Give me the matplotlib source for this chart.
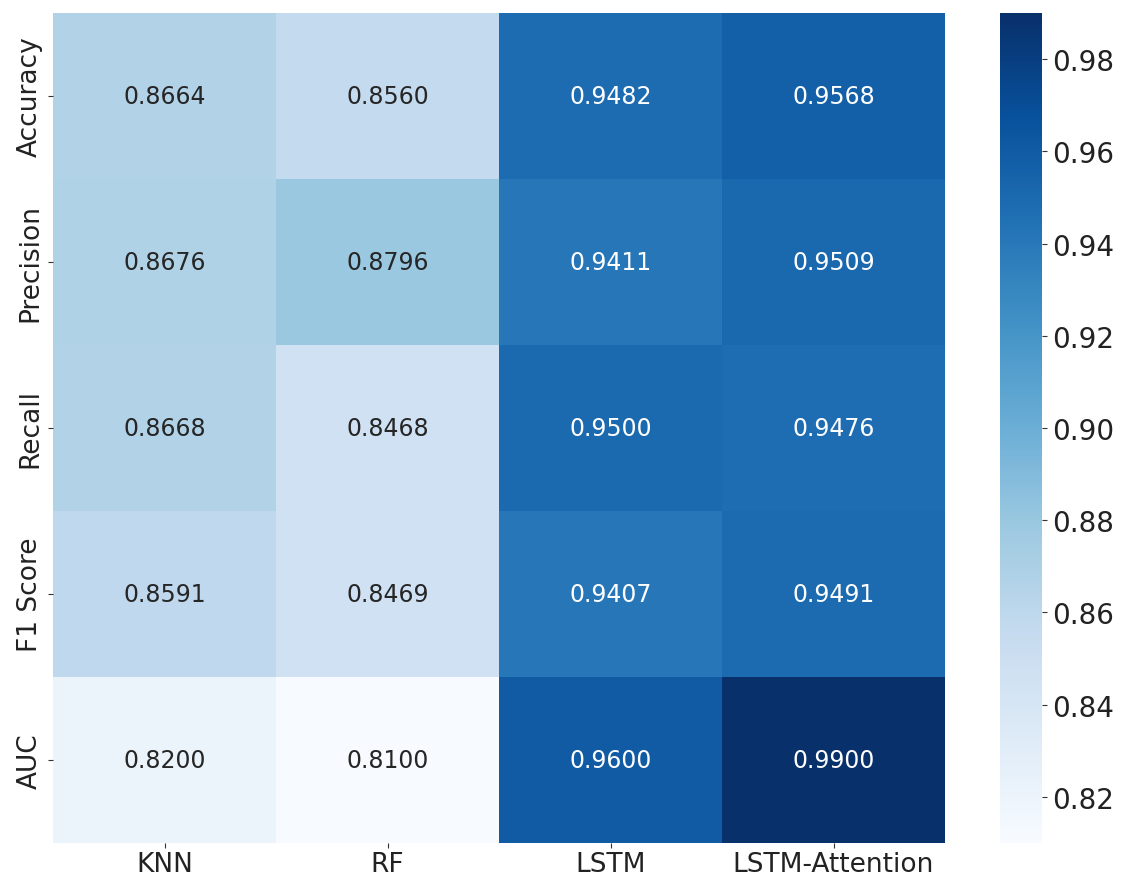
import numpy as np
import matplotlib
matplotlib.use("Agg")
import matplotlib.pyplot as plt
import seaborn as sns

models = ["KNN", "RF", "LSTM", "LSTM-Attention"]
metrics = ["Accuracy", "Precision", "Recall", "F1 Score", "AUC"]

knn = [0.8664, 0.8676, 0.8668, 0.8591, 0.8200]
rf = [0.8560, 0.8796, 0.8468, 0.8469, 0.8100]
lstm = [0.9482, 0.9411, 0.9500, 0.9407, 0.9600]
lstm_att = [0.9568, 0.9509, 0.9476, 0.9491, 0.9900]

data = np.array([knn, rf, lstm, lstm_att]).T

fig = plt.figure(figsize=(11.22, 8.79), dpi=100)
ax = fig.add_axes([53 / 1122, 1 - 844 / 879, 892 / 1122, 830 / 879])
cax = fig.add_axes([1000 / 1122, 1 - 844 / 879, 42 / 1122, 830 / 879])

sns.heatmap(data, annot=True, fmt=".4f", cmap="Blues", ax=ax, cbar_ax=cax,
            xticklabels=models, yticklabels=metrics,
            annot_kws={"fontsize": 17})

ax.tick_params(axis="both", labelsize=19, colors="#333333", labelcolor="#222222")
ax.tick_params(axis="x", pad=2)
ax.set_yticklabels(metrics, rotation=90, va="center")
cax.tick_params(labelsize=20, colors="#333333", labelcolor="#222222")
for s in cax.spines.values():
    s.set_visible(False)

fig.savefig("out.png", dpi=100)
